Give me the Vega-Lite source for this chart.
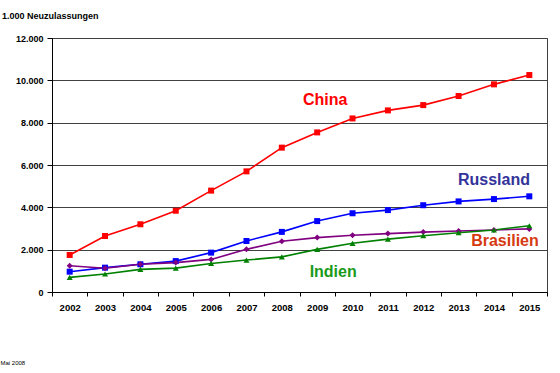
{
  "$schema": "https://vega.github.io/schema/vega-lite/v6.json",
  "width": 495,
  "height": 254,
  "autosize": {"type": "none"},
  "padding": {"left": 52, "top": 38, "right": 13, "bottom": 81},
  "background": "white",
  "title": {"text": "1.000 Neuzulassungen", "anchor": "start", "frame": "group", "dx": -50, "offset": 13, "font": "Liberation Sans", "fontSize": 9, "fontWeight": "bold", "color": "black"},
  "config": {
    "font": "Liberation Sans",
    "view": {"stroke": "#404040", "strokeWidth": 1},
    "axis": {"labelFont": "Liberation Sans", "labelFontWeight": "bold", "labelColor": "black", "domainColor": "black", "tickColor": "black"}
  },
  "datasets": {
    "series": [
      {"land": "China", "jahr": "2002", "wert": 1750},
      {"land": "China", "jahr": "2003", "wert": 2645},
      {"land": "China", "jahr": "2004", "wert": 3200},
      {"land": "China", "jahr": "2005", "wert": 3840},
      {"land": "China", "jahr": "2006", "wert": 4790},
      {"land": "China", "jahr": "2007", "wert": 5700},
      {"land": "China", "jahr": "2008", "wert": 6820},
      {"land": "China", "jahr": "2009", "wert": 7540},
      {"land": "China", "jahr": "2010", "wert": 8200},
      {"land": "China", "jahr": "2011", "wert": 8580},
      {"land": "China", "jahr": "2012", "wert": 8830},
      {"land": "China", "jahr": "2013", "wert": 9260},
      {"land": "China", "jahr": "2014", "wert": 9810},
      {"land": "China", "jahr": "2015", "wert": 10250},
      {"land": "Russland", "jahr": "2002", "wert": 960},
      {"land": "Russland", "jahr": "2003", "wert": 1150},
      {"land": "Russland", "jahr": "2004", "wert": 1310},
      {"land": "Russland", "jahr": "2005", "wert": 1460},
      {"land": "Russland", "jahr": "2006", "wert": 1860},
      {"land": "Russland", "jahr": "2007", "wert": 2410},
      {"land": "Russland", "jahr": "2008", "wert": 2840},
      {"land": "Russland", "jahr": "2009", "wert": 3350},
      {"land": "Russland", "jahr": "2010", "wert": 3720},
      {"land": "Russland", "jahr": "2011", "wert": 3870},
      {"land": "Russland", "jahr": "2012", "wert": 4100},
      {"land": "Russland", "jahr": "2013", "wert": 4280},
      {"land": "Russland", "jahr": "2014", "wert": 4390},
      {"land": "Russland", "jahr": "2015", "wert": 4520},
      {"land": "Brasilien", "jahr": "2002", "wert": 1240},
      {"land": "Brasilien", "jahr": "2003", "wert": 1120},
      {"land": "Brasilien", "jahr": "2004", "wert": 1310},
      {"land": "Brasilien", "jahr": "2005", "wert": 1390},
      {"land": "Brasilien", "jahr": "2006", "wert": 1540},
      {"land": "Brasilien", "jahr": "2007", "wert": 2015},
      {"land": "Brasilien", "jahr": "2008", "wert": 2400},
      {"land": "Brasilien", "jahr": "2009", "wert": 2570},
      {"land": "Brasilien", "jahr": "2010", "wert": 2680},
      {"land": "Brasilien", "jahr": "2011", "wert": 2760},
      {"land": "Brasilien", "jahr": "2012", "wert": 2830},
      {"land": "Brasilien", "jahr": "2013", "wert": 2880},
      {"land": "Brasilien", "jahr": "2014", "wert": 2930},
      {"land": "Brasilien", "jahr": "2015", "wert": 2980},
      {"land": "Indien", "jahr": "2002", "wert": 690},
      {"land": "Indien", "jahr": "2003", "wert": 850},
      {"land": "Indien", "jahr": "2004", "wert": 1070},
      {"land": "Indien", "jahr": "2005", "wert": 1130},
      {"land": "Indien", "jahr": "2006", "wert": 1350},
      {"land": "Indien", "jahr": "2007", "wert": 1510},
      {"land": "Indien", "jahr": "2008", "wert": 1660},
      {"land": "Indien", "jahr": "2009", "wert": 2015},
      {"land": "Indien", "jahr": "2010", "wert": 2300},
      {"land": "Indien", "jahr": "2011", "wert": 2500},
      {"land": "Indien", "jahr": "2012", "wert": 2660},
      {"land": "Indien", "jahr": "2013", "wert": 2800},
      {"land": "Indien", "jahr": "2014", "wert": 2930},
      {"land": "Indien", "jahr": "2015", "wert": 3130}
    ],
    "labels": [
      {"label": "China", "jahr": "2009", "wert": 9070},
      {"label": "Russland", "jahr": "2014", "wert": 5290},
      {"label": "Brasilien", "jahr": "2014", "wert": 2420},
      {"label": "Indien", "jahr": "2009", "wert": 960}
    ]
  },
  "encoding": {
    "x": {
      "field": "jahr", "type": "ordinal",
      "scale": {"type": "band", "paddingInner": 0, "paddingOuter": 0},
      "axis": {"title": "Mai 2008", "titleFont": "Liberation Sans", "titleFontSize": 6, "titleFontWeight": "normal", "titleColor": "black", "titleAnchor": "start", "titleAlign": "left", "titleX": -52, "titleY": 67, "labelAngle": 0, "labelFontSize": 9.5, "tickBand": "extent", "tickSize": 4, "labelPadding": 6, "grid": false, "domainWidth": 1}
    },
    "y": {
      "field": "wert", "type": "quantitative",
      "scale": {"domain": [0, 12000], "nice": false},
      "axis": {"title": null, "values": [0, 2000, 4000, 6000, 8000, 10000, 12000], "labelExpr": "replace(format(datum.value, ','), ',', '.')", "labelFontSize": 9, "tickSize": 5, "labelPadding": 4, "grid": true, "gridColor": "#404040", "gridWidth": 1}
    }
  },
  "layer": [
    {
      "data": {"name": "series"},
      "mark": {"type": "line", "strokeWidth": 1.6, "point": {"size": 36, "filled": true, "opacity": 1}},
      "encoding": {
        "color": {"field": "land", "type": "nominal", "scale": {"domain": ["China", "Russland", "Brasilien", "Indien"], "range": ["#ff0000", "#0000ff", "#800080", "#008000"]}, "legend": null},
        "shape": {"field": "land", "type": "nominal", "scale": {"domain": ["China", "Russland", "Brasilien", "Indien"], "range": ["square", "square", "diamond", "triangle-up"]}, "legend": null}
      }
    },
    {
      "data": {"name": "labels"},
      "transform": [{"filter": "datum.label === 'China'"}],
      "mark": {"type": "text", "font": "Liberation Sans", "fontSize": 16, "fontWeight": "bold", "color": "#ff0000", "dx": 8},
      "encoding": {"text": {"field": "label"}}
    },
    {
      "data": {"name": "labels"},
      "transform": [{"filter": "datum.label === 'Russland'"}],
      "mark": {"type": "text", "font": "Liberation Sans", "fontSize": 16, "fontWeight": "bold", "color": "#333399", "dx": 0},
      "encoding": {"text": {"field": "label"}}
    },
    {
      "data": {"name": "labels"},
      "transform": [{"filter": "datum.label === 'Brasilien'"}],
      "mark": {"type": "text", "font": "Liberation Sans", "fontSize": 16, "fontWeight": "bold", "color": "#d63a10", "dx": 11},
      "encoding": {"text": {"field": "label"}}
    },
    {
      "data": {"name": "labels"},
      "transform": [{"filter": "datum.label === 'Indien'"}],
      "mark": {"type": "text", "font": "Liberation Sans", "fontSize": 16, "fontWeight": "bold", "color": "#1a9a1a", "dx": 16},
      "encoding": {"text": {"field": "label"}}
    }
  ]
}
